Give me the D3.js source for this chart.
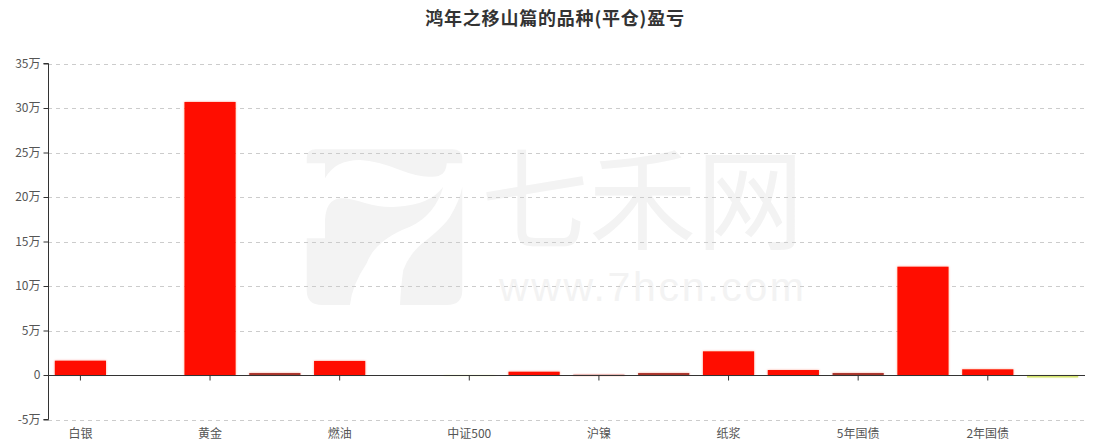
<!DOCTYPE html>
<html><head><meta charset="utf-8">
<script src="https://cdn.jsdelivr.net/npm/d3@7/dist/d3.min.js"></script>
<style>
html,body{margin:0;padding:0;background:#fff;}
svg{display:block;font-family:"Noto Sans CJK SC","Noto Sans",sans-serif;}
</style></head>
<body>
<svg id="chart" width="1097" height="447"></svg>
<script>
const title = "鸿年之移山篇的品种(平仓)盈亏";
const categories = ["白银","沪铜","黄金","螺纹钢","燃油","沪深300","中证500","棉花","沪镍","铁矿石","纸浆","豆粕","5年国债","10年国债","2年国债","原油"];
const values = [16100, 0, 306800, 2200, 15800, 0, -300, 3700, 300, 2200, 26600, 5600, 2200, 121700, 6400, -2800];
const yTicks = [-50000, 0, 50000, 100000, 150000, 200000, 250000, 300000, 350000];

(function () {
const svg = d3.select("#chart");
const gLeft = 48, gRight = 1085, gTop = 63.5, gBottom = 419.5;

const x = d3.scaleBand().domain(categories).range([gLeft, gRight]).padding(0);
const y = d3.scaleLinear().domain([-50000, 350000]).range([gBottom, gTop]);

// watermark
const wm = svg.append("g").attr("fill", "#f3f3f3");
wm.append("path").attr("d",
  "M306.7,163.3 L306.7,158 Q306.7,149.3 316,149.3 L452,149.3 Q462.3,149.3 462.3,158 L462.3,163.3 L446.7,163.3 Q446,178 430,176.7 Q418,177 400,170 Q378,161 360,160 Q335,160 325,178.3 L325,163.3 Z");
wm.append("path").attr("d",
  "M306.7,238.3 L325,238.3 L325,220 Q326,200 340,198.3 Q350,198 365,203 Q382,208 396.7,206.7 Q430,205 443.3,186.7 Q435,215 410,226.7 Q375,240 366.7,263.3 Q352,285 350,305 L322,305 Q306.7,305 306.7,290 Z");
wm.append("path").attr("d",
  "M462.3,186.7 L462.3,290 Q462.3,305 447,305 L400,305 Q401,285 403.3,270 Q410,252 426.7,240 Q445,225 450,216.7 Q460,200 462.3,186.7 Z");
const wt = wm.append("text");
wt.append("tspan").attr("x", 481).attr("y", 241)
  .attr("font-size", 110).attr("textLength", 323).attr("lengthAdjust", "spacingAndGlyphs")
  .text("七禾网");
wt.append("tspan").attr("x", 499).attr("y", 301)
  .attr("font-size", 41).attr("font-family", "Liberation Sans, Open Sans, sans-serif")
  .attr("textLength", 305).attr("lengthAdjust", "spacing")
  .text("www.7hcn.com");

// grid lines
svg.append("g").selectAll("line").data(yTicks.filter(v => v !== 0)).join("line")
  .attr("x1", gLeft).attr("x2", gRight)
  .attr("y1", d => Math.round(y(d)) + 0.5).attr("y2", d => Math.round(y(d)) + 0.5)
  .attr("stroke", "#cccccc").attr("stroke-dasharray", "4,4");

// glow filters
const defs = svg.append("defs");
function glow(id, col) {
  const f = defs.append("filter").attr("id", id).attr("x", "-10%").attr("y", "-100%").attr("width", "120%").attr("height", "300%");
  f.append("feDropShadow").attr("dx", 0).attr("dy", 0).attr("stdDeviation", 1.2)
    .attr("flood-color", col).attr("flood-opacity", 0.4);
}
glow("glowR", "#ff3300");
glow("glowG", "#e6f27a");

function barColor(v) {
  if (v < 0) return "#d3e36a";
  if (v < 3000) return "#a8342c";
  return "#ff1100";
}
const bw = x.bandwidth() * 0.79;
svg.append("g").selectAll("rect").data(values.map((v, i) => ({v, c: categories[i]})).filter(d => d.v !== 0)).join("rect")
  .attr("x", d => x(d.c) + (x.bandwidth() - bw) / 2)
  .attr("width", bw)
  .attr("y", d => Math.min(y(d.v), y(0)))
  .attr("height", d => Math.max(Math.abs(y(d.v) - y(0)), 1))
  .attr("fill", d => barColor(d.v))
  .attr("filter", d => d.v < 0 ? "url(#glowG)" : "url(#glowR)");

// y axis
const yAxis = d3.axisLeft(y).tickValues(yTicks).tickSize(5).tickPadding(3)
  .tickFormat(d => d === 0 ? "0" : (d / 10000) + "万");
const gy = svg.append("g").attr("transform", `translate(${gLeft + 0.5},0)`).call(yAxis);
gy.select(".domain").attr("stroke", "#333").attr("d", `M-5,${y(350000)}H0V${y(-50000)}H-5`);
gy.selectAll(".tick line").attr("stroke", "#333");
gy.selectAll(".tick text").attr("fill", "#555").attr("font-size", 12)
  .attr("font-family", "\"Noto Sans CJK SC\", sans-serif");

// x axis line at zero
const zeroY = Math.round(y(0)) + 0.5;
const xAxis = d3.axisBottom(x).tickSize(5).tickFormat("")
  .tickValues(categories.filter((c, i) => i % 2 === 0));
const gx = svg.append("g").attr("transform", `translate(0,${zeroY})`).call(xAxis);
gx.select(".domain").attr("stroke", "#333").attr("d", `M${gLeft},0H${gRight}`);
gx.selectAll(".tick line").attr("stroke", "#333");

// x labels
svg.append("g").selectAll("text").data(categories.filter((c, i) => i % 2 === 0)).join("text")
  .attr("x", d => x(d) + x.bandwidth() / 2)
  .attr("y", 432).attr("dominant-baseline", "central").attr("text-anchor", "middle")
  .attr("font-size", 12).attr("fill", "#555")
  .text(d => d);

// title
svg.append("text").attr("x", 555).attr("y", 17).attr("dominant-baseline", "central")
  .attr("text-anchor", "middle").attr("font-size", 18).attr("font-weight", "bold")
  .attr("letter-spacing", "0.8px")
  .attr("fill", "#333").text(title);
})();
</script>
</body></html>
